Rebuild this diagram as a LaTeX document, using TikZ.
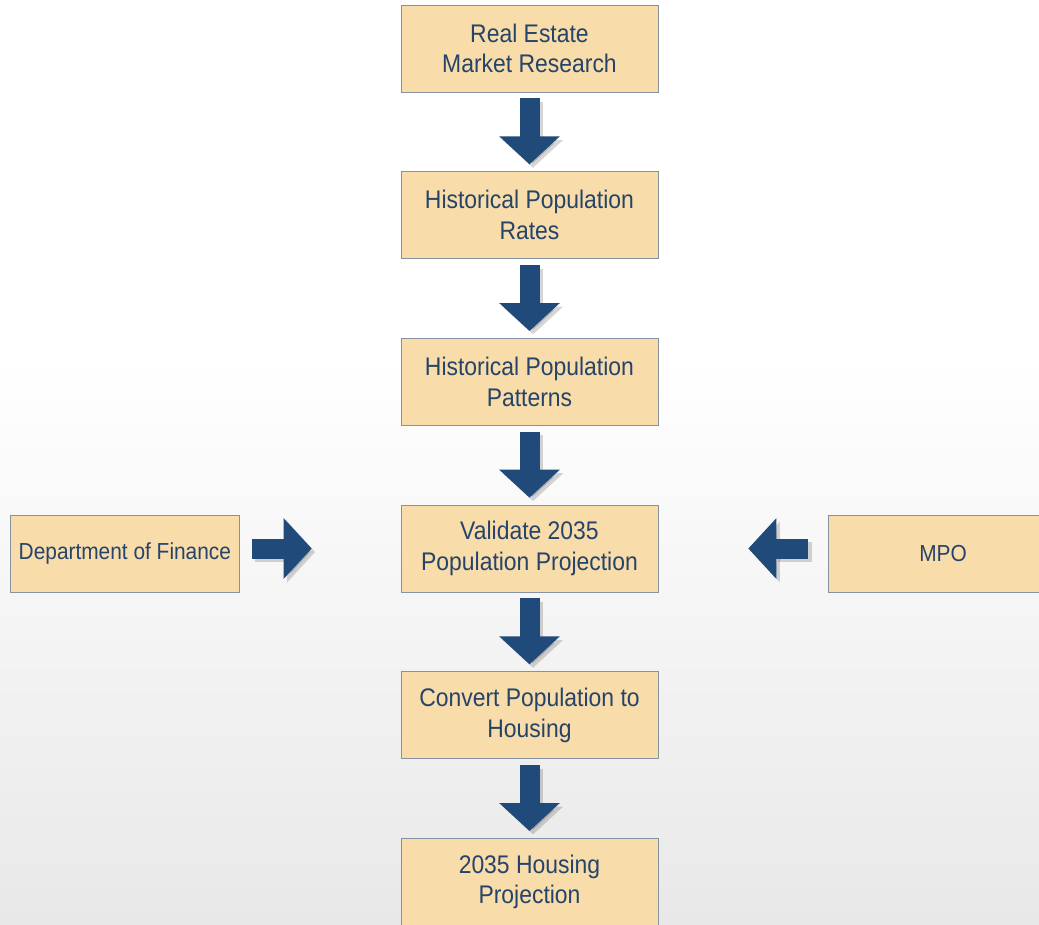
\documentclass[tikz,border=0pt]{standalone}
\usepackage{fontspec}
\setmainfont[FakeStretch=0.9]{Liberation Sans}
\usetikzlibrary{arrows.meta,positioning}
\definecolor{boxfill}{HTML}{F8DCA9}
\definecolor{boxline}{HTML}{8592A2}
\definecolor{boxtext}{HTML}{26446A}
\definecolor{arrowblue}{HTML}{1F4A79}
\tikzstyle{state} = [rectangle,
                    minimum width=5.14cm,
                    minimum height=1.74cm,
                    align = center,
                    draw=boxline,
                    fill=boxfill,
                    text=boxtext,
                    font=\fontsize{14.5}{17.5}\selectfont]
\tikzstyle{source} = [state,
                     minimum width=4.58cm,
                     minimum height=1.54cm,
                     font=\fontsize{13.2}{16}\selectfont]
\tikzstyle{flow} = [line width=0.4cm,
                   -{Triangle[width=1.18cm,length=0.56cm]}]
\tikzstyle{control} = [node distance=1.58cm,
                      x=0.02cm, y=-0.02cm,
                      every edge/.append style={draw=arrowblue}]

\begin{document}
\begin{tikzpicture}[control]
    \useasboundingbox (0,0) rectangle (1039,924);
    % faded backdrop
    \shade[top color=white, bottom color=black!9] (0,360) rectangle (1039,924);
    \node (0) at (529.5,48.5) [state] {Real Estate\\Market Research};
    \node (1) [below =of 0] [state] {Historical Population\\Rates};
    \node (2) [below =of 1] [state] {Historical Population\\Patterns};
    \node (3) [below =of 2] [state] {Validate 2035\\Population Projection};
    \node (4) [below =of 3] [state] {Convert Population to\\Housing};
    \node (5) [below =of 4] [state] {2035 Housing\\Projection};
    \node (6) [left =3.22cm of 3, yshift=-0.1cm] [source] {Department of Finance};
    \node (7) [right =3.4cm of 3, yshift=-0.1cm] [source] {MPO};
    % shadows under the arrows
    \begin{scope}[transform canvas={shift={(0.07cm,-0.07cm)}},
                  every edge/.append style={draw=black, opacity=0.16}]
    \path[flow, shorten <=0.12cm, shorten >=0.14cm]
      (0) edge (1)
      (1) edge (2)
      (2) edge (3)
      (3) edge (4)
      (4) edge (5);
    \path[flow, shorten <=0.24cm, shorten >=1.78cm] (6.east |- 3) edge (3);
    \path[flow, shorten <=0.4cm, shorten >=1.8cm] (7.west |- 3) edge (3);
    \end{scope}
    \path[flow, shorten <=0.12cm, shorten >=0.14cm]
      (0) edge (1)
      (1) edge (2)
      (2) edge (3)
      (3) edge (4)
      (4) edge (5);
    \path[flow, shorten <=0.24cm, shorten >=1.78cm] (6.east |- 3) edge (3);
    \path[flow, shorten <=0.4cm, shorten >=1.8cm] (7.west |- 3) edge (3);
  \end{tikzpicture}
\end{document}
